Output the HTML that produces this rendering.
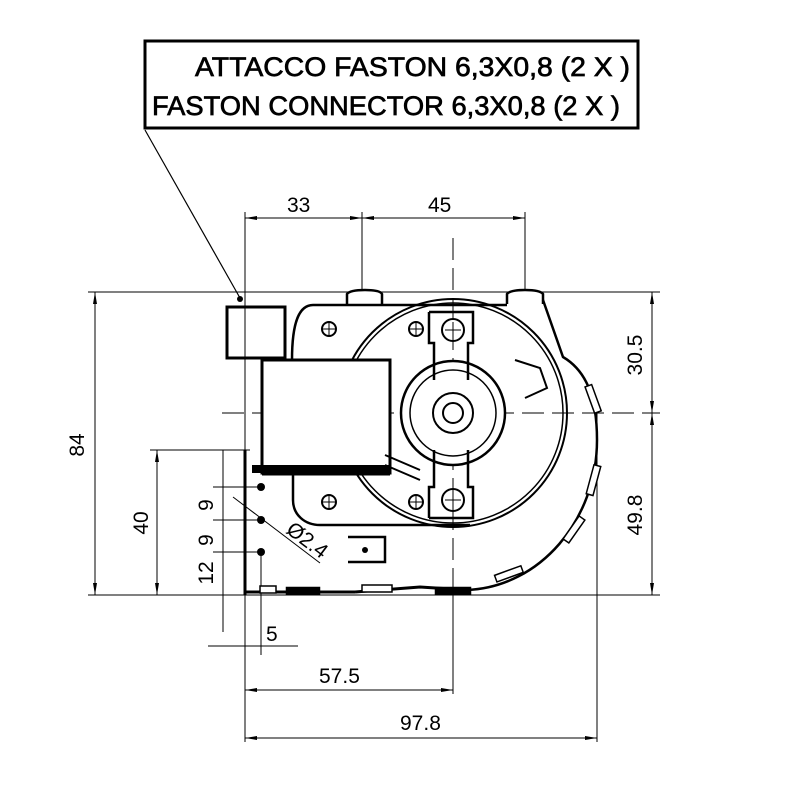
<!DOCTYPE html>
<html><head><meta charset="utf-8"><style>
html,body{margin:0;padding:0;background:#fff;}
svg{display:block;}
text{font-family:"Liberation Sans",sans-serif;fill:#000;}
</style></head><body>
<svg width="800" height="800" viewBox="0 0 800 800" xmlns="http://www.w3.org/2000/svg">
<rect width="800" height="800" fill="#fff"/>
<!-- label box -->
<rect x="145" y="41" width="493" height="87" fill="none" stroke="#000" stroke-width="3"/>
<text x="195" y="76" font-size="27" stroke="#000" stroke-width="0.7" textLength="435" lengthAdjust="spacingAndGlyphs">ATTACCO FASTON 6,3X0,8 (2 X )</text>
<text x="152" y="115" font-size="27" stroke="#000" stroke-width="0.7" textLength="468" lengthAdjust="spacingAndGlyphs">FASTON CONNECTOR 6,3X0,8 (2 X )</text>
<line x1="145" y1="130" x2="240" y2="298" stroke="#000" stroke-width="1.2"/>
<circle cx="240" cy="299" r="3" fill="#000"/>

<g stroke="#000" stroke-width="1" fill="none">
<line x1="245" y1="212" x2="245" y2="742"/>
<line x1="362" y1="212" x2="362" y2="292"/>
<line x1="525" y1="212" x2="525" y2="292"/>
<line x1="88" y1="292" x2="660" y2="292"/>
<line x1="88" y1="595" x2="660" y2="595"/>
<line x1="150" y1="450" x2="250" y2="450"/>
<line x1="597" y1="413" x2="597" y2="742"/>
<line x1="453" y1="590" x2="453" y2="694"/>
<line x1="245" y1="218" x2="525" y2="218"/>
<line x1="95" y1="292" x2="95" y2="595"/>
<line x1="157" y1="450" x2="157" y2="595"/>
<line x1="652" y1="292" x2="652" y2="595"/>
<line x1="245" y1="690" x2="453" y2="690"/>
<line x1="245" y1="738" x2="597" y2="738"/>
<line x1="223" y1="450" x2="223" y2="632"/>
<line x1="208" y1="646" x2="298" y2="646"/>
<line x1="261" y1="552" x2="261" y2="655"/>
<line x1="213" y1="487" x2="261" y2="487"/>
<line x1="213" y1="520" x2="261" y2="520"/>
<line x1="213" y1="552" x2="261" y2="552"/>
<line x1="233" y1="497" x2="320" y2="563"/>
<line x1="222" y1="413" x2="660" y2="413" stroke-dasharray="22,8"/>
<line x1="453" y1="238" x2="453" y2="640" stroke-dasharray="22,8"/>
</g>
<g fill="#000">
<path d="M245 218 l12 -2 v4z M362 218 l-12 -2 v4z M362 218 l12 -2 v4z M525 218 l-12 -2 v4z"/>
<path d="M95 292 l-2 12 h4z M95 595 l-2 -12 h4z M157 450 l-2 12 h4z M157 595 l-2 -12 h4z"/>
<path d="M652 292 l-2 12 h4z M652 413 l-2 -12 h4z M652 413 l-2 12 h4z M652 595 l-2 -12 h4z"/>
<path d="M245 690 l12 -2 v4z M453 690 l-12 -2 v4z M245 738 l12 -2 v4z M597 738 l-12 -2 v4z"/>
</g>
<g font-size="21">
<text x="287" y="212">33</text>
<text x="428" y="212">45</text>
<text x="319" y="683">57.5</text>
<text x="400" y="730">97.8</text>
<text x="266" y="641">5</text>
<text transform="translate(84,445) rotate(-90)" text-anchor="middle">84</text>
<text transform="translate(148,523) rotate(-90)" text-anchor="middle">40</text>
<text transform="translate(642,355) rotate(-90)" text-anchor="middle">30.5</text>
<text transform="translate(642,515) rotate(-90)" text-anchor="middle">49.8</text>
<text transform="translate(213,505) rotate(-90)" text-anchor="middle">9</text>
<text transform="translate(213,540) rotate(-90)" text-anchor="middle">9</text>
<text transform="translate(213,573) rotate(-90)" text-anchor="middle">12</text>
<text transform="translate(285,532) rotate(37)">Ø2.4</text>
</g>

<!-- motor -->
<g stroke="#000" fill="none" stroke-width="2.5">
<path d="M347 304 V294 Q350 290 365 290 Q380 290 382 294 V304" fill="#fff"/>
<path d="M507 304 V294 Q510 290 525 290 Q540 290 543 294 V304" fill="#fff"/>
<path d="M313 305 H507 M292 360 C292 320 300 305 313 305"/>
<path d="M543 300 L563 357 C585 370 597 395 597 440 C597 520 540 587 467 590"/>
<circle cx="453" cy="413" r="114" stroke-width="2"/>
<circle cx="453" cy="413" r="110" stroke-width="1.5"/>
<path d="M293 473 V500 C293 515 305 525 320 525 H470"/>
<rect x="227" y="307" width="58" height="51" stroke-width="3"/>
<path d="M262 360 H390 V473 H262 Z" fill="#fff" stroke-width="3"/>
<line x1="262" y1="473" x2="390" y2="473" stroke-width="5"/>
<circle cx="453" cy="413" r="52" fill="#fff"/>
<circle cx="453" cy="413" r="43" stroke-width="1.5"/>
<circle cx="453" cy="413" r="20" stroke-width="2"/>
<circle cx="453" cy="413" r="10" stroke-width="2"/>
<path d="M429 312 H473 V343 L468 343 V380 M429 312 V343 H434 V380" stroke-width="2.5"/>
<path d="M429 518 H473 V487 H468 V450 M429 518 V487 H434 V450" stroke-width="2.5"/>
<circle cx="453" cy="330" r="11" stroke-width="2"/>
<circle cx="453" cy="500" r="11" stroke-width="2"/>
<circle cx="329" cy="329" r="7" stroke-width="2"/>
<circle cx="416" cy="329" r="7" stroke-width="2"/>
<circle cx="329" cy="502" r="7" stroke-width="2"/>
<circle cx="416" cy="502" r="7" stroke-width="2"/>
<path d="M515 360 L540 368 L547 388 L525 398" stroke-width="2"/>
<path d="M385 455 L420 470 M385 465 L420 480" stroke-width="2"/>
<path d="M348 537 H385 V562 H348" stroke-width="2.5"/>
<path d="M245 450 V595 M245 592 H355 M355 592 L420 587 L467 590" stroke-width="3"/>
<rect x="287" y="588" width="32" height="6" fill="#000"/>
<rect x="436" y="588" width="34" height="6" fill="#000"/>
<rect x="252" y="465" width="137" height="8" fill="#000" stroke="none"/>
</g>
<g stroke="#000" stroke-width="1" fill="none">
<path d="M445 330 H461 M453 322 V338 M445 500 H461 M453 492 V508"/>
<path d="M323 329 H335 M329 323 V335 M410 329 H422 M416 323 V335 M323 502 H335 M329 496 V508 M410 502 H422 M416 496 V508"/>
</g>
<g stroke="#000" stroke-width="1.5" fill="#fff">
<rect x="362" y="585" width="30" height="7"/>
<rect x="260" y="586" width="16" height="7"/>
<rect x="590" y="385" width="7" height="28" transform="rotate(-20 593 400)"/>
<rect x="590" y="465" width="7" height="30" transform="rotate(15 593 480)"/>
<rect x="570" y="515" width="7" height="28" transform="rotate(35 573 530)"/>
<rect x="495" y="570" width="28" height="7" transform="rotate(-20 510 574)"/>
</g>
<g fill="#000">
<circle cx="261" cy="487" r="4"/><circle cx="261" cy="520" r="4"/><circle cx="261" cy="552" r="4"/>
<circle cx="365" cy="550" r="3"/>
</g>
</svg>
</body></html>
